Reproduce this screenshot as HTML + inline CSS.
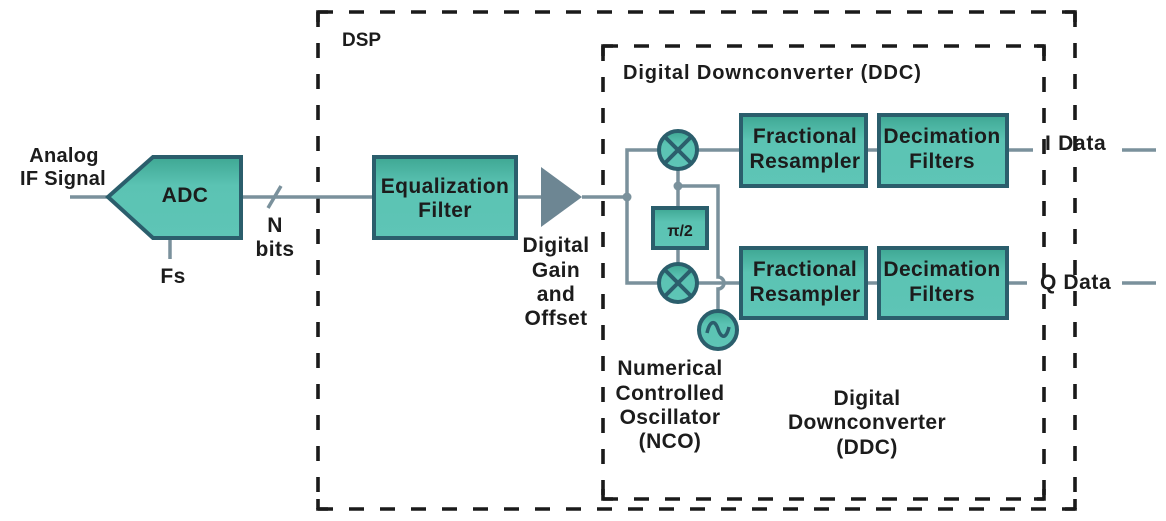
<!DOCTYPE html>
<html>
<head>
<meta charset="utf-8">
<style>
  html,body{margin:0;padding:0;background:#ffffff;}
  body{width:1166px;height:521px;overflow:hidden;}
  svg{display:block;}
  text{font-family:"Liberation Sans","DejaVu Sans",sans-serif;font-weight:bold;fill:#1c1c1c;}
</style>
</head>
<body>
<svg width="1166" height="521" viewBox="0 0 1166 521" xmlns="http://www.w3.org/2000/svg">
  <defs>
    <linearGradient id="g" x1="0" y1="0" x2="0" y2="1">
      <stop offset="0" stop-color="#3ea793"/>
      <stop offset="0.35" stop-color="#5bc3b3"/>
      <stop offset="1" stop-color="#5ec5b6"/>
    </linearGradient>
  </defs>

  <!-- Dashed boxes -->
  <g fill="none" stroke="#1a1a1a" stroke-width="3.6" stroke-dasharray="15 16">
    <line x1="318" y1="12" x2="1075" y2="12"/>
    <line x1="318" y1="509" x2="1075" y2="509"/>
    <line x1="318" y1="12" x2="318" y2="509"/>
    <line x1="1075" y1="12" x2="1075" y2="509"/>
    <line x1="603" y1="46" x2="1044" y2="46"/>
    <line x1="603" y1="499" x2="1044" y2="499"/>
    <line x1="603" y1="46" x2="603" y2="499"/>
    <line x1="1044" y1="46" x2="1044" y2="499"/>
  </g>
  <g fill="none" stroke="#1a1a1a" stroke-width="3.6">
    <polyline points="318,22 318,12 328,12"/>
    <polyline points="1065,12 1075,12 1075,22"/>
    <polyline points="318,499 318,509 328,509"/>
    <polyline points="1065,509 1075,509 1075,499"/>
    <polyline points="603,56 603,46 613,46"/>
    <polyline points="1034,46 1044,46 1044,56"/>
    <polyline points="603,489 603,499 613,499"/>
    <polyline points="1034,499 1044,499 1044,489"/>
  </g>

  <!-- Wires -->
  <g fill="none" stroke="#7a919c" stroke-width="3.5">
    <line x1="70" y1="197" x2="108" y2="197"/>
    <line x1="170" y1="238" x2="170" y2="259"/>
    <line x1="241" y1="197" x2="373" y2="197"/>
    <line x1="268" y1="208" x2="281" y2="186"/>
    <line x1="517" y1="197" x2="541" y2="197"/>
    <line x1="582" y1="197" x2="627" y2="197"/>
    <polyline points="678,150 627,150 627,283 678,283"/>
    <line x1="697" y1="150" x2="740" y2="150"/>
    <line x1="697" y1="283" x2="740" y2="283"/>
    <line x1="678" y1="169" x2="678" y2="207"/>
    <line x1="678" y1="248" x2="678" y2="264"/>
    <path d="M678 186 L718 186 L718 277 A6 6 0 0 1 718 289 L718 311"/>
    <line x1="866" y1="150" x2="878" y2="150"/>
    <line x1="866" y1="283" x2="878" y2="283"/>
    <line x1="1007" y1="150" x2="1033" y2="150"/>
    <line x1="1007" y1="283" x2="1027" y2="283"/>
    <line x1="1122" y1="150" x2="1156" y2="150"/>
    <line x1="1122" y1="283" x2="1156" y2="283"/>
  </g>
  <circle cx="627" cy="197" r="4.5" fill="#7a919c"/>
  <circle cx="678" cy="186" r="4.5" fill="#7a919c"/>

  <!-- ADC -->
  <polygon points="108,197 153,157 241,157 241,238 153,238" fill="url(#g)" stroke="#2b5e6c" stroke-width="4" stroke-linejoin="miter"/>

  <!-- Equalization filter -->
  <rect x="374" y="157" width="142" height="81" fill="url(#g)" stroke="#2b5e6c" stroke-width="4"/>

  <!-- Gain triangle -->
  <polygon points="541,167 582,197 541,227" fill="#6d8693"/>

  <!-- DDC boxes -->
  <g fill="url(#g)" stroke="#2b5e6c" stroke-width="4">
    <rect x="741" y="115" width="125" height="71"/>
    <rect x="879" y="115" width="128" height="71"/>
    <rect x="741" y="248" width="125" height="70"/>
    <rect x="879" y="248" width="128" height="70"/>
    <rect x="653" y="208" width="54" height="40"/>
  </g>

  <!-- Mixers / NCO -->
  <g stroke="#2b5e6c" stroke-width="4">
    <circle cx="678" cy="150" r="19" fill="url(#g)"/>
    <line x1="665" y1="137" x2="691" y2="163"/>
    <line x1="691" y1="137" x2="665" y2="163"/>
    <circle cx="678" cy="283" r="19" fill="url(#g)"/>
    <line x1="665" y1="270" x2="691" y2="296"/>
    <line x1="691" y1="270" x2="665" y2="296"/>
    <circle cx="718" cy="330" r="19" fill="url(#g)"/>
    <path d="M707 333 C710 320, 715 320, 718 329 S726 340, 729 327" fill="none" stroke-width="3.5"/>
  </g>

  <!-- Labels -->
  <g font-size="20" text-anchor="middle">
    <text x="64" y="162" letter-spacing="0.3">Analog</text>
    <text x="63" y="185" letter-spacing="0.3">IF Signal</text>
  </g>
  <g font-size="21" text-anchor="middle" letter-spacing="0.4">
    <text x="185" y="202">ADC</text>
    <text x="173" y="283">Fs</text>
    <text x="275" y="232">N</text>
    <text x="275" y="256">bits</text>
    <text x="445" y="193">Equalization</text>
    <text x="445" y="217">Filter</text>
    <text x="556" y="252">Digital</text>
    <text x="556" y="277">Gain</text>
    <text x="556" y="301">and</text>
    <text x="556" y="325">Offset</text>
    <text x="805" y="143">Fractional</text>
    <text x="805" y="168">Resampler</text>
    <text x="942" y="143">Decimation</text>
    <text x="942" y="168">Filters</text>
    <text x="805" y="276">Fractional</text>
    <text x="805" y="301">Resampler</text>
    <text x="942" y="276">Decimation</text>
    <text x="942" y="301">Filters</text>
    <text x="670" y="375">Numerical</text>
    <text x="670" y="400">Controlled</text>
    <text x="670" y="424">Oscillator</text>
    <text x="670" y="448">(NCO)</text>
    <text x="867" y="405">Digital</text>
    <text x="867" y="429">Downconverter</text>
    <text x="867" y="454">(DDC)</text>
  </g>
  <text x="680" y="236" font-size="16" text-anchor="middle">π/2</text>
  <text x="342" y="46" font-size="19">DSP</text>
  <text x="623" y="79" font-size="20" letter-spacing="0.9">Digital Downconverter (DDC)</text>
  <text x="1045" y="150" font-size="21" letter-spacing="0.7">I Data</text>
  <text x="1040" y="289" font-size="21" letter-spacing="0.6">Q Data</text>
</svg>
</body>
</html>
